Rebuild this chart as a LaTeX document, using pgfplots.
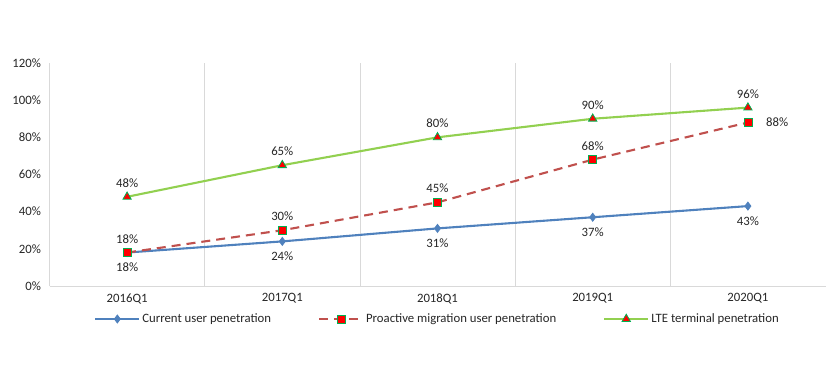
\documentclass[border=0pt]{standalone}
\usepackage{pgfplots}
\pgfplotsset{compat=1.18}
\usepackage{fontspec}
\setmainfont{Carlito}
\definecolor{cblue}{HTML}{4F81BD}
\definecolor{cred}{HTML}{C0504D}
\definecolor{cgreen}{HTML}{92D050}
\definecolor{medge}{HTML}{00B050}
\definecolor{cgrid}{HTML}{D9D9D9}
\definecolor{ctext}{HTML}{262626}
\begin{document}
\begin{tikzpicture}
\begin{axis}[
  scale only axis,
  width=776bp, height=223bp,
  xmin=-0.5, xmax=4.5,
  ymin=0, ymax=120,
  xtick={0,1,2,3,4},
  xticklabels={2016Q1,2017Q1,2018Q1,2019Q1,2020Q1},
  extra x ticks={0.5,1.5,2.5,3.5},
  extra x tick labels={},
  extra x tick style={grid=major, major grid style={cgrid, line width=0.8bp}},
  ytick={0,20,40,60,80,100,120},
  yticklabels={0\%,20\%,40\%,60\%,80\%,100\%,120\%},
  major tick length=0pt,
  axis x line*=bottom,
  axis y line*=left,
  axis line style={cgrid, line width=0.8bp, -},
  every tick label/.append style={font=\fontsize{12.8}{14}\selectfont, text=ctext},
  yticklabel style={xshift=-5bp},
  xticklabel style={yshift=-4bp},
  clip=false,
  point meta=explicit symbolic,
  nodes near coords,
  every node near coord/.append style={font=\fontsize{12.8}{14}\selectfont, text=ctext, inner sep=0pt},
  legend columns=3,
  legend style={at={(axis description cs:0.5,0)}, anchor=center, yshift=-33bp, draw=none, fill=none,
    font=\fontsize{12.8}{14}\selectfont, text=ctext, column sep=0pt, inner sep=0pt,
    nodes={inner xsep=2bp, inner ysep=1bp},
    /tikz/every even column/.append style={column sep=45bp}},
  legend cell align=left,
  legend image code/.code={
    \draw[#1] (0bp,0bp) -- (44bp,0bp);
    \draw[#1, solid] plot coordinates {(22bp,0bp)};
  },
]
\addplot[cblue, line width=2.1bp, mark=diamond*, mark size=4bp, mark options={fill=cblue, draw=cblue, line width=0.8bp, solid},
  every node near coord/.append style={anchor=north, yshift=-10bp}]
  coordinates {(0,18) [18\%] (1,24) [24\%] (2,31) [31\%] (3,37) [37\%] (4,43) [43\%]};
\addlegendentry{Current user penetration}
\addplot[cred, line width=2.1bp, dash pattern=on 9bp off 6bp, mark=square*, mark size=4bp, mark options={fill=red, draw=medge, line width=0.8bp, solid},
  every node near coord/.append style={anchor=south, yshift=9bp}]
  coordinates {(0,18) [18\%] (1,30) [30\%] (2,45) [45\%] (3,68) [68\%] (4,88) []};
\addlegendentry{Proactive migration user penetration}
\addplot[cgreen, line width=2.1bp, mark=triangle*, mark size=4.8bp, mark options={fill=red, draw=medge, line width=0.8bp, solid},
  every node near coord/.append style={anchor=south, yshift=9bp}]
  coordinates {(0,48) [48\%] (1,65) [65\%] (2,80) [80\%] (3,90) [90\%] (4,96) [96\%]};
\addlegendentry{LTE terminal penetration}
\addplot[draw=none, forget plot, every node near coord/.append style={anchor=west, xshift=18bp}]
  coordinates {(4,88) [88\%]};
\end{axis}
\useasboundingbox (-49.5bp,-90bp) rectangle (784.5bp,286bp);
\end{tikzpicture}
\end{document}
